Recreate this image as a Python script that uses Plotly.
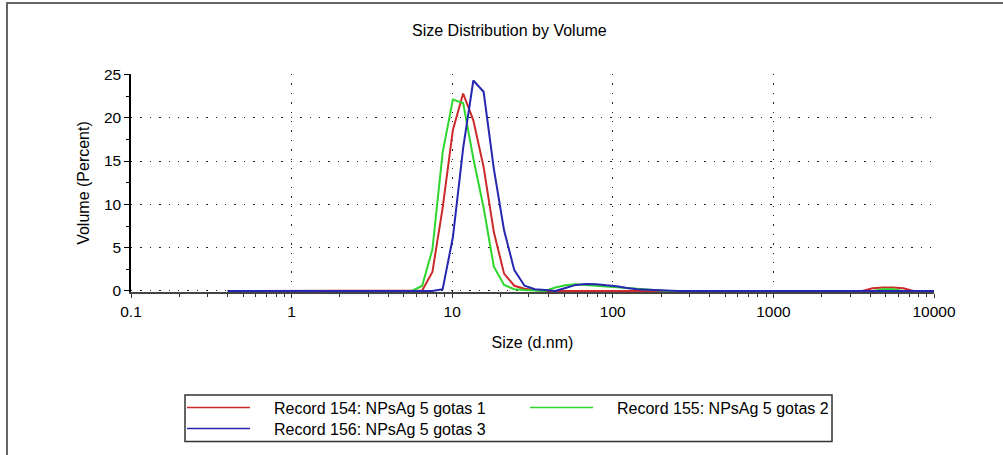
"""
Size Distribution by Volume (DLS, three records of NPsAg 5 gotas).
"""

import plotly.graph_objects as go

# ---------------------------------------------------------------------------
# Data (size classes in d.nm, volume in %)
# ---------------------------------------------------------------------------

SIZES = [
    0.4000, 0.4632, 0.5365, 0.6213, 0.7195, 0.8332, 0.9649, 1.117, 1.294, 1.499,
    1.736, 2.010, 2.328, 2.696, 3.122, 3.615, 4.187, 4.849, 5.615, 6.503,
    7.531, 8.721, 10.10, 11.70, 13.54, 15.69, 18.17, 21.04, 24.36, 28.21,
    32.67, 37.84, 43.82, 50.75, 58.77, 68.06, 78.82, 91.28, 105.7, 122.4,
    141.8, 164.2, 190.1, 220.2, 255.0, 295.3, 342.0, 396.1, 458.7, 531.2,
    615.1, 712.4, 825.0, 955.4, 1106, 1281, 1484, 1718, 1990, 2305,
    2669, 3091, 3580, 4145, 4801, 5560, 6439, 7456, 8635, 10000,
]

REC_154 = [
    0, 0, 0, 0, 0, 0, 0, 0, 0, 0,
    0, 0, 0, 0, 0, 0, 0, 0, 0, 0.05,
    2.2, 9.6, 18.6, 22.8, 19.7, 14.3, 6.8, 2.0, 0.6, 0.25,
    0.1, 0, 0, 0, 0, 0, 0, 0, 0, 0,
    0, 0, 0, 0, 0, 0, 0, 0, 0, 0,
    0, 0, 0, 0, 0, 0, 0, 0, 0, 0,
    0, 0, 0, 0.3, 0.4, 0.4, 0.3, 0, 0, 0,
]

REC_155 = [
    0, 0, 0, 0, 0, 0, 0, 0, 0, 0,
    0, 0, 0, 0, 0, 0, 0, 0, 0, 0.6,
    4.8, 16.0, 22.1, 21.7, 15.3, 9.6, 2.8, 0.7, 0.2, 0.1,
    0.05, 0, 0.4, 0.65, 0.78, 0.7, 0.6, 0.5, 0.4, 0.3,
    0.25, 0.15, 0.08, 0, 0, 0, 0, 0, 0, 0,
    0, 0, 0, 0, 0, 0, 0, 0, 0, 0,
    0, 0, 0, 0, 0.2, 0.2, 0, 0, 0, 0,
]

REC_156 = [
    0, 0, 0, 0, 0, 0, 0, 0, 0, 0,
    0, 0, 0, 0, 0, 0, 0, 0, 0, 0,
    0, 0.2, 6.2, 16.5, 24.3, 23.0, 14.1, 7.0, 2.4, 0.6,
    0.2, 0.1, 0, 0.35, 0.7, 0.8, 0.78, 0.65, 0.55, 0.35,
    0.2, 0.15, 0.1, 0, 0, 0, 0, 0, 0, 0,
    0, 0, 0, 0, 0, 0, 0, 0, 0, 0,
    0, 0, 0, 0, 0, 0, 0, 0, 0, 0,
]

SERIES = [
    ("Record 154: NPsAg 5 gotas 1", REC_154, "#cc2a2a"),
    ("Record 155: NPsAg 5 gotas 2", REC_155, "#2ed62e"),
    ("Record 156: NPsAg 5 gotas 3", REC_156, "#2626b0"),
]

X_TICKS = [0.1, 1, 10, 100, 1000, 10000]
X_TICKTEXT = ["0.1", "1", "10", "100", "1000", "10000"]
# 2..9 within every decade
X_MINOR = [m * 10.0 ** e for e in range(-1, 4) for m in range(2, 10)]

# ---------------------------------------------------------------------------
# Geometry (pixels of the 1003x455 page)
# ---------------------------------------------------------------------------

W, H = 1003, 455
PL, PR, PT, PB = 131, 934, 74, 292   # plot area edges

FONT = "Liberation Sans, Arial, sans-serif"
FS = 16


def px(x):
    return (x - PL) / (PR - PL)


def py(y):
    return (PB - y) / (PB - PT)


# ---------------------------------------------------------------------------
# Figure
# ---------------------------------------------------------------------------

fig = go.Figure()

for name, vals, color in SERIES:
    fig.add_trace(
        go.Scatter(
            x=SIZES,
            y=vals,
            name=name,
            mode="lines",
            line=dict(color=color, width=2),
            showlegend=False,
        )
    )

fig.update_layout(
    width=W,
    height=H,
    margin=dict(l=PL, r=W - PR, t=PT, b=H - PB, pad=0),
    paper_bgcolor="white",
    plot_bgcolor="white",
    font=dict(family=FONT, size=FS, color="black"),
)

fig.update_xaxes(
    type="log",
    range=[-1, 4],
    tickmode="array",
    tickvals=X_TICKS,
    ticktext=X_TICKTEXT,
    ticks="outside",
    ticklen=4,
    tickcolor="#333",
    tickfont=dict(size=15.5),
    showline=True,
    linecolor="#444",
    linewidth=2,
    showgrid=True,
    gridcolor="#222",
    gridwidth=1.4,
    griddash="1.4px,8px",
    zeroline=False,
    layer="below traces",
    minor=dict(tickmode="array", tickvals=X_MINOR, ticks="outside", ticklen=3,
               tickcolor="#333", showgrid=False),
    title=dict(text="Size (d.nm)", standoff=18, font=dict(size=FS)),
)

fig.update_yaxes(
    range=[-0.12, 25.05],
    tickmode="linear",
    tick0=0,
    dtick=5,
    ticks="outside",
    ticklen=5,
    tickcolor="black",
    tickfont=dict(size=15.5),
    showline=True,
    linecolor="black",
    linewidth=1.5,
    showgrid=True,
    gridcolor="#222",
    gridwidth=1.4,
    griddash="1.4px,8px",
    zeroline=False,
    layer="below traces",
    minor=dict(dtick=2.5, ticks="outside", ticklen=3, tickcolor="black", showgrid=False),
    title=dict(text="Volume (Percent)", standoff=10, font=dict(size=FS)),
)

# Chart title
fig.add_annotation(
    x=px(509), y=py(30), xref="paper", yref="paper",
    text="Size Distribution by Volume", showarrow=False,
    xanchor="center", yanchor="middle",
)

# Outer frame
fig.add_shape(
    type="rect", xref="paper", yref="paper",
    x0=px(7), x1=px(1020), y0=py(470), y1=py(3),
    line=dict(color="#666", width=2),
)

# Legend box drawn by hand (long line keys, two columns)
fig.add_shape(
    type="rect", xref="paper", yref="paper",
    x0=px(185), x1=px(832), y0=py(441.5), y1=py(395),
    line=dict(color="#333", width=1.5),
)

legend_slots = [(187, 272, 407.5), (530, 615, 407.5), (187, 272, 428.5)]
for (name, _vals, color), (lx, tx, ly) in zip(SERIES, legend_slots):
    fig.add_shape(
        type="line", xref="paper", yref="paper",
        x0=px(lx), x1=px(lx + 63), y0=py(ly), y1=py(ly),
        line=dict(color=color, width=1.6),
    )
    fig.add_annotation(
        x=px(tx), y=py(ly + 1), xref="paper", yref="paper",
        text=name, showarrow=False, xanchor="left", yanchor="middle",
    )

# page has a default 8px body margin; drop it so the figure sits at 0,0
fig.write_html(
    "out.html",
    config={"displayModeBar": False},
    post_script="document.body.style.margin='0px';",
)
